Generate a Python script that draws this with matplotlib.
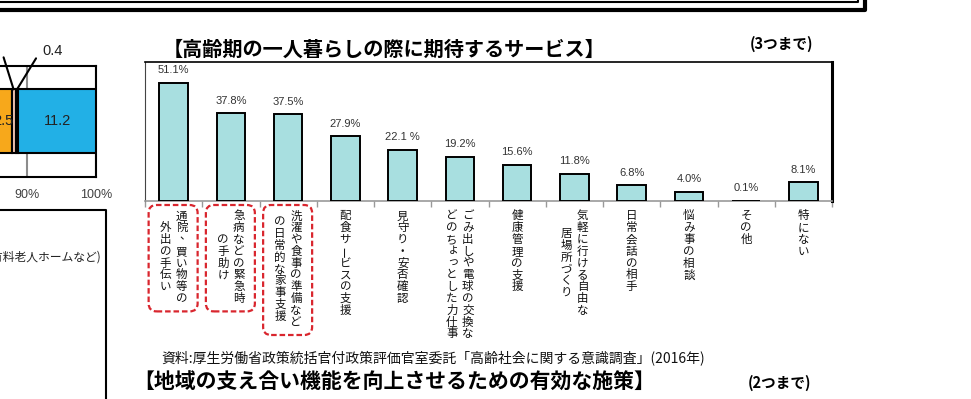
import matplotlib
matplotlib.use("Agg")
import matplotlib.pyplot as plt
import numpy as np
from matplotlib.patches import FancyBboxPatch
from matplotlib.lines import Line2D
from matplotlib.transforms import IdentityTransform

W, H = 971, 399
plt.rcParams['font.family'] = ['Noto Sans CJK JP', 'DejaVu Sans']

# --- data ---
title = "【高齢期の一人暮らしの際に期待するサービス】"
note = "(3つまで)"
categories = [
    ["通院、買い物等の", "外出の手伝い"],
    ["急病などの緊急時", "の手助け"],
    ["洗濯や食事の準備など", "の日常的な家事支援"],
    ["配食サービスの支援"],
    ["見守り・安否確認"],
    ["ごみ出しや電球の交換な", "どのちょっとした力仕事"],
    ["健康管理の支援"],
    ["気軽に行ける自由な", "居場所づくり"],
    ["日常会話の相手"],
    ["悩み事の相談"],
    ["その他"],
    ["特にない"],
]
values = [51.1, 37.8, 37.5, 27.9, 22.1, 19.2, 15.6, 11.8, 6.8, 4.0, 0.1, 8.1]
value_labels = ["51.1%", "37.8%", "37.5%", "27.9%", "22.1 %", "19.2%",
                "15.6%", "11.8%", "6.8%", "4.0%", "0.1%", "8.1%"]
highlighted = [0, 1, 2]

source = "資料:厚生労働省政策統括官付政策評価官室委託「高齢社会に関する意識調査」(2016年)"
title2 = "【地域の支え合い機能を向上させるための有効な施策】"
note2 = "(2つまで)"

# left (cut off) stacked bar
left_segments = [85.3, 2.5, 0.6, 0.4, 11.2]
left_colors = ['#a5a5a5', '#f7a81b', '#f3c6b2', '#d9a08a', '#22b0e6']
left_seg_labels = ["", "2.5", "", "", "11.2"]
left_ticks = [90, 100]
box_text = "(有料老人ホームなど)"

fig = plt.figure(figsize=(W / 100, H / 100), dpi=100)


def fx(x):
    return x / W


def fy(y):
    return 1 - y / H


px = IdentityTransform()

# --- main bar chart ---
ax = fig.add_axes([fx(145), fy(201), (832 - 145) / W, (201 - 62) / H])
idx = np.arange(len(values))
ax.bar(idx, values, width=0.5, color='#a8dfe0', edgecolor='black', linewidth=1.4, zorder=3)
ax.set_xlim(-0.5, len(values) - 0.5)
ax.set_ylim(0, 60)
ax.set_yticks([])
ax.set_xticks(np.arange(len(values) + 1) - 0.5)
ax.set_xticklabels([])
ax.tick_params(axis='x', length=4, color='#999999', width=1)
ax.spines['top'].set_linewidth(1.2)
ax.spines['left'].set_linewidth(0.8)
ax.spines['left'].set_color('#444444')
ax.spines['right'].set_linewidth(2.2)
ax.spines['bottom'].set_color('#999999')
ax.spines['bottom'].set_linewidth(1.2)

for i, (v, lab) in enumerate(zip(values, value_labels)):
    ax.annotate(lab, (i, v), xytext=(0, 9), textcoords='offset points',
                ha='center', va='center', fontsize=8, family='Liberation Sans',
                color='#333333')

# vertical category labels (right-to-left columns)
pitch = 11.8
col_gap = 16
top = 210
small_kana = "ゃゅょっぁぃぅぇぉ"
for i, cols in enumerate(categories):
    cx = ax.transData.transform((i, 0))[0]
    maxlen = max(len(c) for c in cols)
    n = len(cols)
    for j, col in enumerate(cols):
        x = cx + ((n - 1) / 2 - j) * col_gap
        y0 = top + (maxlen - len(col)) * pitch / 2
        for k, ch in enumerate(col):
            yc = y0 + pitch * (k + 0.5)
            dx, dy, rot = 0, 0, 0
            if ch == 'ー':
                rot = 90
            elif ch == '、':
                dx, dy = 4, -4
            elif ch in small_kana:
                dx, dy = 1.5, -1.5
            fig.text(x + dx, H - (yc + dy), ch, transform=px, ha='center', va='center',
                     fontsize=8.3, rotation=rot, color='#111111')
    if i in highlighted:
        y_top = top - 5
        y_bot = top + maxlen * pitch + 7
        box = FancyBboxPatch((cx - 25, H - y_bot), 49, y_bot - y_top,
                             boxstyle='round,pad=0,rounding_size=8', transform=px,
                             fill=False, edgecolor='#d9262e', linewidth=1.6,
                             linestyle=(0, (2.5, 1.3)))
        fig.add_artist(box)

fig.text(fx(163), fy(49), title, fontsize=14.5, fontweight='bold', ha='left', va='center')
fig.text(fx(750), fy(44), note, fontsize=10.5, fontweight='bold', ha='left', va='center')

# --- left stacked bar (partly out of frame) ---
ax2 = fig.add_axes([fx(-594.3), fy(176.7), (95.7 + 594.3) / W, (176.7 - 65.7) / H])
start = 0
bar_h = 0.574
centers = []
for seg, col, lab in zip(left_segments, left_colors, left_seg_labels):
    ax2.barh(0, seg, left=start, height=bar_h, color=col, edgecolor='black',
             linewidth=1.5, zorder=3)
    centers.append(start + seg / 2)
    if lab:
        ax2.text(start + seg / 2, 0, lab, ha='center', va='center', fontsize=10.5,
                 family='Liberation Sans', color='#222222', zorder=4)
    start += seg
ax2.set_xlim(0, 100)
ax2.set_ylim(-0.5, 0.5)
ax2.set_yticks([])
ax2.set_xticks(left_ticks)
ax2.set_xticklabels([f"{t}%" for t in left_ticks], family='Liberation Sans',
                    fontsize=9, color='#404040')
ax2.tick_params(axis='x', length=0, pad=9)
ax2.set_axisbelow(True)
ax2.grid(axis='x', color='#8c8c8c', linewidth=1.5)
for s in ax2.spines.values():
    s.set_linewidth(1.5)

ax2.annotate("", xy=(centers[2], bar_h / 2), xytext=(-10, 32), textcoords='offset pixels',
             arrowprops=dict(arrowstyle='-', color='black', lw=1.5, shrinkA=0, shrinkB=0))
ax2.annotate("", xy=(centers[3], bar_h / 2), xytext=(19, 31), textcoords='offset pixels',
             arrowprops=dict(arrowstyle='-', color='black', lw=1.5, shrinkA=0, shrinkB=0))
ax2.annotate(f"{left_segments[3]}", xy=(centers[3], bar_h / 2), xytext=(36, 38),
             textcoords='offset pixels', ha='center', va='center', fontsize=10.5,
             family='Liberation Sans', color='#222222')

# box below left chart
fig.add_artist(Line2D([0, 106, 106], [H - 210, H - 210, 0], transform=px,
                      color='black', lw=1.5))
fig.text(102, H - 257, box_text, transform=px, ha='right', va='center', fontsize=8.5,
         color='#222222')

# top frame of previous panel
fig.add_artist(Line2D([0, 858, 858], [H - 2, H - 2, H], transform=px, color='black', lw=1.5))
fig.add_artist(Line2D([0, 865, 865], [H - 9.5, H - 9.5, H], transform=px, color='black', lw=3))

# footer
fig.text(fx(161.7), fy(358), source, fontsize=10, ha='left', va='center', color='#111111')
fig.text(fx(133), fy(382), title2, fontsize=15, fontweight='bold', ha='left', va='center')
fig.text(fx(748), fy(383), note2, fontsize=10.5, fontweight='bold', ha='left', va='center')

fig.savefig('out.png', dpi=100)
